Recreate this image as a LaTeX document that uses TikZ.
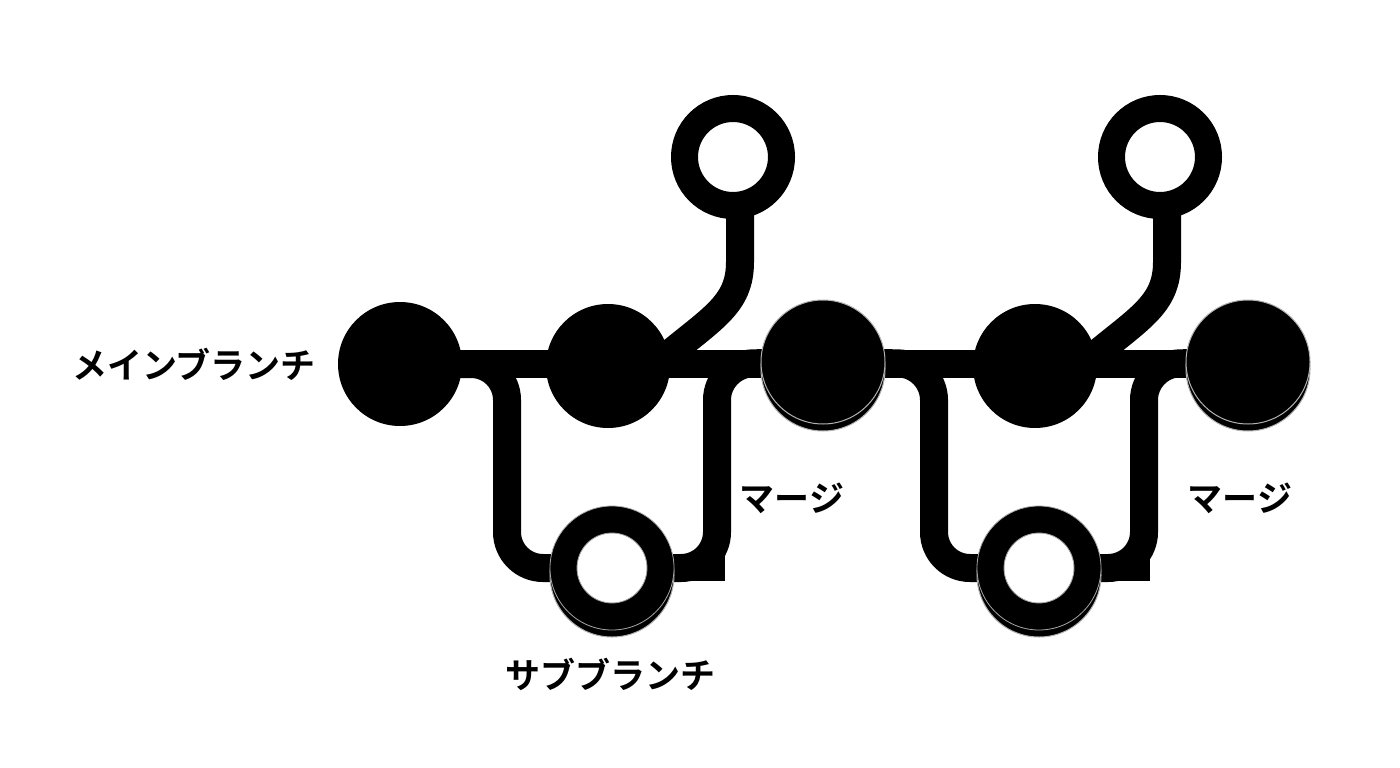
\documentclass[tikz,border=0pt]{standalone}
\usepackage{fontspec}
\newfontfamily\cjk{Noto Sans CJK JP}[BoldFont=Noto Sans CJK JP Bold]
\usetikzlibrary{backgrounds}
\begin{document}
\begin{tikzpicture}[x=1pt,y=-1pt,
  dot/.style={circle,fill=black,minimum size=124pt,inner sep=0pt,outer sep=0pt},
  mdot/.style={dot,draw=gray!60,line width=1pt},
  ring/.style={circle,draw=black,fill=white,line width=27pt,minimum size=97pt,inner sep=0pt,outer sep=0pt},
  shadowdisk/.style={fill=black,draw=gray!60,line width=1pt},
  br/.style={line width=28pt,draw=black},
  stub/.style={line width=25pt,draw=black},
  lbl/.style={font=\cjk\bfseries\fontsize{35}{42}\selectfont,inner sep=0pt,text=black}]
\useasboundingbox (0,0) rectangle (1400,768);

% shadows of merged commits
\filldraw[shadowdisk] (823,369) circle[radius=62];
\filldraw[shadowdisk] (1248,369) circle[radius=62];
\filldraw[shadowdisk] (612,575) circle[radius=62];
\filldraw[shadowdisk] (1039,575) circle[radius=62];

% main branch commits
\node[dot] (d1) at (400,364) {};
\node[dot] (d2) at (608,366) {};
\node[mdot] (d3) at (823,362) {};
\node[dot] (d4) at (1035,366) {};
\node[mdot] (d5) at (1248,362) {};

% side commits
\node[ring] (r1) at (733,157) {};
\node[ring] (r2) at (1160,157) {};
\node[ring] (r3) at (612,568) {};
\node[ring] (r4) at (1039,568) {};
\draw[gray!70,line width=0.8pt] (r3.center) circle[radius=35] (r3.center) circle[radius=62];
\draw[gray!70,line width=0.8pt] (r4.center) circle[radius=35] (r4.center) circle[radius=62];

% labels
\node[lbl] (tmain) at (194,364) {メインブランチ};
\node[lbl] (tsub) at (610,674) {サブブランチ};
\node[lbl] (tm1) at (792,498) {マージ};
\node[lbl] (tm2) at (1240,498) {マージ};

\begin{pgfonlayer}{background}
  \draw[br] (d1.center) -- (d5.center |- d1.center);
  % upward branches
  \draw[br,line cap=round] ([xshift=7pt]r1.center) -- (740,262) .. controls (740,305) and (712,318) .. (662,360);
  \draw[br,line cap=round] ([xshift=7pt]r2.center) -- (1167,262) .. controls (1167,305) and (1139,318) .. (1089,360);
  % sub branch 1
  \draw[br,rounded corners=36pt] (d1.center) -- (507,364) -- (507,568) -- (r3.center);
  \draw[br,rounded corners=36pt] (r3.center) -- (717,568) -- (717,364) -- (d3.center);
  \draw[stub] (r3.center) -- (725,568);
  % sub branch 2
  \draw[br,rounded corners=36pt] (d3.center) -- (934,364) -- (934,568) -- (r4.center);
  \draw[br,rounded corners=36pt] (r4.center) -- (1144,568) -- (1144,364) -- (d5.center);
  \draw[stub] (r4.center) -- (1150,568);
\end{pgfonlayer}
\end{tikzpicture}
\end{document}
